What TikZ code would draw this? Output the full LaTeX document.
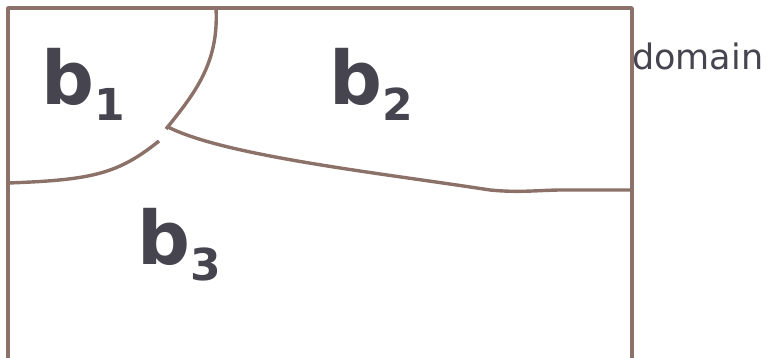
\documentclass[tikz,border=0pt]{standalone}
\usepackage{fontspec}
\setmainfont{DejaVu Sans}
\definecolor{edge}{HTML}{8B7168}
\definecolor{ink}{HTML}{45444F}
\tikzset{
  bound/.style={draw=edge, line width=3.4pt, line join=round},
  region/.style={text=ink, inner sep=0pt, anchor=base west, font=\bfseries\fontsize{74}{74}\selectfont},
}
\newcommand{\regname}[1]{b\raisebox{-16pt}{\fontsize{44}{44}\selectfont #1}}
\begin{document}
\begin{tikzpicture}[x=1pt,y=-1pt]
\useasboundingbox (0,0) rectangle (767,358);

% -------------------------------------------------
% Domaine (rectangle)
% -------------------------------------------------
\draw[bound] (8,359.5) -- (8,8) -- (632,8) -- (632,359.5) -- cycle;
\node[text=ink, inner sep=0pt, anchor=base west, font=\fontsize{35}{35}\selectfont] (domain) at (632,70) {domain};

% -------------------------------------------------
% Frontieres entre les regions
% -------------------------------------------------
\draw[bound] (216,8) .. controls (219,62) and (196,92) .. (166,129);
\draw[bound] (8,183) .. controls (92,180) and (118,174) .. (159,141);
\draw[bound] (168,127) .. controls (225,156) and (380,173) .. (490,190)
  .. controls (520,193) and (540,190) .. (562,190) -- (632,190);

% -------------------------------------------------
% Labels
% -------------------------------------------------
\node[region] (b1) at (41,105) {\regname{1}};
\node[region] (b2) at (329,105) {\regname{2}};
\node[region] (b3) at (137,264) {\regname{3}};

\end{tikzpicture}
\end{document}
